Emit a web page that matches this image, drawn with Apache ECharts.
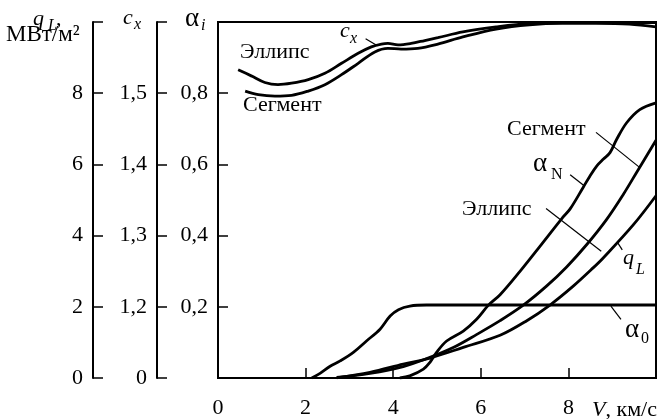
<!DOCTYPE html>
<html>
<head>
  <meta charset="utf-8">
  <title>c_x, q_L, alpha</title>
  <script src="https://cdn.jsdelivr.net/npm/echarts@6/dist/echarts.min.js"></script>
  <style>
    html, body { margin: 0; padding: 0; background: #fff; }
    #chart { width: 659px; height: 419px; }
  </style>
</head>
<body>
<div id="chart"></div>
<script>
  // V, км/с
  var xTicks = [0, 2, 4, 6, 8];

  // c_x, Эллипс / Сегмент
  var cxEllipseV = [0.46, 0.77, 1.07, 1.37, 1.68, 2.06, 2.44, 2.82, 3.20, 3.50, 3.73, 3.88, 4.11, 4.41, 4.72, 5.02, 5.59, 6.35, 7.11, 7.86, 8.63, 9.39, 10];
  var cxEllipse = [1.533, 1.524, 1.515, 1.512, 1.514, 1.519, 1.528, 1.542, 1.556, 1.565, 1.569, 1.570, 1.568, 1.570, 1.574, 1.578, 1.586, 1.593, 1.598, 1.599, 1.599, 1.599, 1.599];
  var cxSegmentV = [0.62, 0.92, 1.30, 1.68, 2.06, 2.44, 2.82, 3.20, 3.58, 3.88, 4.18, 4.56, 5.02, 5.59, 6.35, 7.11, 7.86, 8.63, 9.39, 10];
  var cxSegment = [1.503, 1.498, 1.496, 1.497, 1.503, 1.512, 1.526, 1.542, 1.558, 1.563, 1.562, 1.563, 1.569, 1.579, 1.590, 1.596, 1.598, 1.598, 1.597, 1.593];

  // alpha_0
  var a0V = [2.14, 2.33, 2.56, 2.79, 3.09, 3.39, 3.70, 3.93, 4.12, 4.38, 4.76, 10];
  var a0 = [0, 0.013, 0.033, 0.048, 0.072, 0.104, 0.137, 0.174, 0.192, 0.202, 0.205, 0.205];

  // alpha_N
  var aNV = [4.15, 4.38, 4.69, 4.84, 4.99, 5.22, 5.60, 5.91, 6.17, 6.44, 6.89, 7.35, 7.85, 8.04, 8.34, 8.49, 8.65, 8.80, 8.95, 9.10, 9.33, 9.63, 10];
  var aN = [0, 0.006, 0.025, 0.044, 0.072, 0.104, 0.132, 0.166, 0.204, 0.234, 0.299, 0.37, 0.448, 0.475, 0.536, 0.567, 0.596, 0.615, 0.633, 0.67, 0.717, 0.754, 0.773];

  // q_L, МВт/м2 (Сегмент, Эллипс)
  var qSegmentV = [2.71, 3.47, 4.23, 4.84, 5.37, 5.91, 6.44, 6.97, 7.50, 7.96, 8.42, 8.87, 9.25, 9.56, 10];
  var qSegment = [0.02, 0.13, 0.32, 0.58, 0.855, 1.225, 1.61, 2.045, 2.58, 3.12, 3.75, 4.45, 5.15, 5.78, 6.68];
  var qEllipseV = [2.71, 3.47, 4.23, 4.84, 5.60, 6.44, 7.05, 7.58, 8.11, 8.57, 8.80, 9.48, 10];
  var qEllipse = [0.005, 0.16, 0.39, 0.56, 0.86, 1.20, 1.61, 2.05, 2.58, 3.10, 3.38, 4.30, 5.12];

  // выноски (в единицах q_L)
  var leaderCx = [[3.37, 9.53], [3.64, 9.33]];
  var leaderSeg = [[8.63, 6.90], [9.61, 5.93]];
  var leaderAN = [[8.04, 5.71], [8.36, 5.40]];
  var leaderEll = [[7.49, 4.76], [8.75, 3.56]];
  var leaderQ = [[9.12, 3.81], [9.23, 3.60]];
  var leaderA0 = [[8.97, 2.02], [9.20, 1.645]];

  var serif = "'Liberation Serif', 'DejaVu Serif', serif";

  function pairs(xs, ys) {
    return xs.map(function (x, i) { return [x, ys[i]]; });
  }

  function curve(name, xs, ys, axis) {
    return {
      name: name, type: 'line', yAxisIndex: axis,
      data: pairs(xs, ys), smooth: 0.35, showSymbol: false, silent: true,
      lineStyle: { color: '#000', width: 2.8 }
    };
  }

  function leader(pts) {
    return {
      type: 'line', yAxisIndex: 0, data: pts, showSymbol: false, silent: true,
      lineStyle: { color: '#000', width: 1.2 }
    };
  }

  function txt(x, y, s, size, italic) {
    return {
      type: 'text', x: x, y: y, silent: true,
      style: {
        text: s, fill: '#000', fontSize: size, fontFamily: serif,
        fontStyle: italic ? 'italic' : 'normal',
        textAlign: 'left', textVerticalAlign: 'middle'
      }
    };
  }

  function yAx(min, max, interval, offset, fmt) {
    return {
      type: 'value', position: 'left', min: min, max: max, interval: interval, offset: offset,
      axisLine: { show: true, onZero: false, lineStyle: { color: '#000', width: 2 } },
      axisTick: { show: true, inside: true, length: 10, lineStyle: { color: '#000', width: 1.5 } },
      axisLabel: { color: '#000', fontSize: 22, fontFamily: serif, margin: 10, formatter: fmt },
      splitLine: { show: false }
    };
  }

  var chart = echarts.init(document.getElementById('chart'));
  chart.setOption({
    animation: false,
    backgroundColor: '#fff',
    grid: { left: 218, right: 2, top: 22, bottom: 38, show: true, borderColor: '#000', borderWidth: 2 },
    xAxis: {
      type: 'value', min: 0, max: 10, interval: 2,
      axisLine: { onZero: false, lineStyle: { color: '#000', width: 2 } },
      axisTick: { inside: true, length: 10, lineStyle: { color: '#000', width: 1.5 } },
      axisLabel: {
        color: '#000', fontSize: 22, fontFamily: serif, margin: 19,
        formatter: function (v) { return xTicks.indexOf(v) >= 0 ? String(v) : ''; }
      },
      splitLine: { show: false }
    },
    yAxis: [
      yAx(0, 10, 2, 125, function (v) { return v === 10 ? '' : String(v); }),
      yAx(1.1, 1.6, 0.1, 61, function (v) {
        var r = Math.round(v * 10) / 10;
        if (r === 1.1) return '0';
        if (r === 1.6) return '';
        return r.toFixed(1).replace('.', ',');
      }),
      yAx(0, 1, 0.2, 0, function (v) {
        var r = Math.round(v * 10) / 10;
        if (r === 0 || r === 1) return '';
        return r.toFixed(1).replace('.', ',');
      })
    ],
    series: [
      curve('cx Эллипс', cxEllipseV, cxEllipse, 1),
      curve('cx Сегмент', cxSegmentV, cxSegment, 1),
      curve('alpha0', a0V, a0, 2),
      curve('alphaN', aNV, aN, 2),
      curve('qL Сегмент', qSegmentV, qSegment, 0),
      curve('qL Эллипс', qEllipseV, qEllipse, 0),
      leader(leaderCx), leader(leaderSeg), leader(leaderAN),
      leader(leaderEll), leader(leaderQ), leader(leaderA0)
    ],
    graphic: [
      // заголовки осей
      txt(33, 19, 'q', 22, true),
      txt(48, 26, 'L', 16, true),
      txt(56, 19.5, ',', 22, false),
      txt(6, 35, 'МВт/м²', 23, false),
      txt(123, 18.5, 'c', 22, true),
      txt(134, 24.5, 'x', 16, true),
      txt(185, 18.5, 'α', 27, false),
      txt(201, 26, 'i', 16, true),
      // подписи в поле графика
      txt(240, 52.5, 'Эллипс', 22, false),
      txt(243, 105.5, 'Сегмент', 22, false),
      txt(340, 31.5, 'c', 22, true),
      txt(350, 38.5, 'x', 16, true),
      txt(507, 129, 'Сегмент', 22, false),
      txt(533, 164, 'α', 27, false),
      txt(551, 175, 'N', 16, false),
      txt(462, 209, 'Эллипс', 22, false),
      txt(623, 258.5, 'q', 22, true),
      txt(636, 270, 'L', 16, true),
      txt(625, 330, 'α', 27, false),
      txt(641, 339, '0', 16, false),
      {
        type: 'text', x: 657, y: 410, silent: true,
        style: {
          text: '{i|V}, км/с', fill: '#000', fontSize: 22, fontFamily: serif,
          textAlign: 'right', textVerticalAlign: 'middle',
          rich: { i: { fontStyle: 'italic', fontSize: 22, fontFamily: serif } }
        }
      }
    ]
  });
</script>
</body>
</html>
